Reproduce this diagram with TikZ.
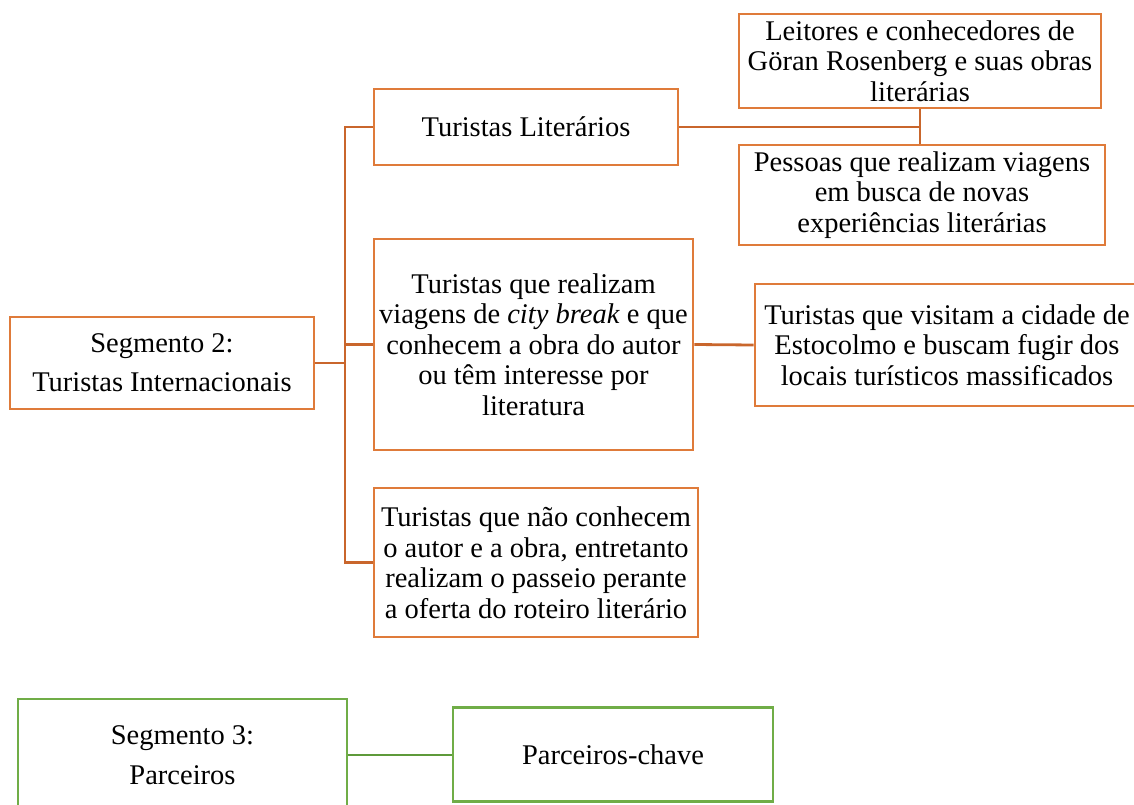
\documentclass[tikz,border=0pt]{standalone}
\usepackage{fontspec}
\setmainfont{Liberation Serif}
\definecolor{obox}{HTML}{DF7B3A}
\definecolor{oline}{HTML}{C9662C}
\definecolor{gbox}{HTML}{70AD47}
\definecolor{gline}{HTML}{5E9A3A}
\tikzset{
  obx/.style={draw=obox, line width=2.8pt, rectangle, inner sep=0pt, align=center,
    font=\fontsize{28.5}{30.5}\selectfont},
  gbx/.style={draw=gbox, line width=2.8pt, rectangle, inner sep=0pt, align=center,
    font=\fontsize{28.5}{40}\selectfont},
  segbx/.style={obx, font=\fontsize{28.5}{39}\selectfont},
  oconn/.style={draw=oline, line width=2.8pt},
  gconn/.style={draw=gline, line width=2.8pt}
}
\begin{document}
\begin{tikzpicture}[x=1pt,y=-1pt]
\useasboundingbox (0,0) rectangle (1134,805);
\clip (0,0) rectangle (1134,805);
\node[segbx, minimum width=304, minimum height=92] (seg2) at (162,363) {Segmento 2:\\Turistas Internacionais};
\node[obx, minimum width=304, minimum height=76] (tl) at (526,127) {Turistas Literários};
\node[obx, minimum width=362, minimum height=94] (leit) at (920,61) {Leitores e conhecedores de\\Göran Rosenberg e suas obras\\literárias};
\node[obx, minimum width=366, minimum height=100] (pess) at (922,195) {Pessoas que realizam viagens\\em busca de novas\\experiências literárias};
\node[obx, minimum width=319, minimum height=211] (city) at (533.5,344.5) {Turistas que realizam\\viagens de \textit{city break} e que\\conhecem a obra do autor\\ou têm interesse por\\literatura};
\node[obx, minimum width=384, minimum height=122] (visit) at (947,345) {Turistas que visitam a cidade de\\Estocolmo e buscam fugir dos\\locais turísticos massificados};
\node[obx, minimum width=324, minimum height=149] (nao) at (536,562.5) {Turistas que não conhecem\\o autor e a obra, entretanto\\realizam o passeio perante\\a oferta do roteiro literário};
\node[gbx, minimum width=329, minimum height=112] (seg3) at (182.5,755) {Segmento 3:\\Parceiros};
\node[gbx, minimum width=320, minimum height=94] (parc) at (613,754.5) {Parceiros-chave};

\coordinate (j) at (345,363);
\coordinate (k) at (920,127);
\draw[oconn] (seg2.east) -- (j);
\draw[oconn] (tl.west) -- (j |- tl.west) -- (j |- nao.west) -- (nao.west);
\draw[oconn] (j |- city.west) -- (city.west);
\draw[oconn] (tl.east) -- (k);
\draw[oconn] (leit.south -| k) -- (pess.north -| k);
\draw[oconn] (city.east) -- (visit.west);
\draw[gconn] (seg3.east) -- (seg3.east -| parc.west);
\end{tikzpicture}
\end{document}
